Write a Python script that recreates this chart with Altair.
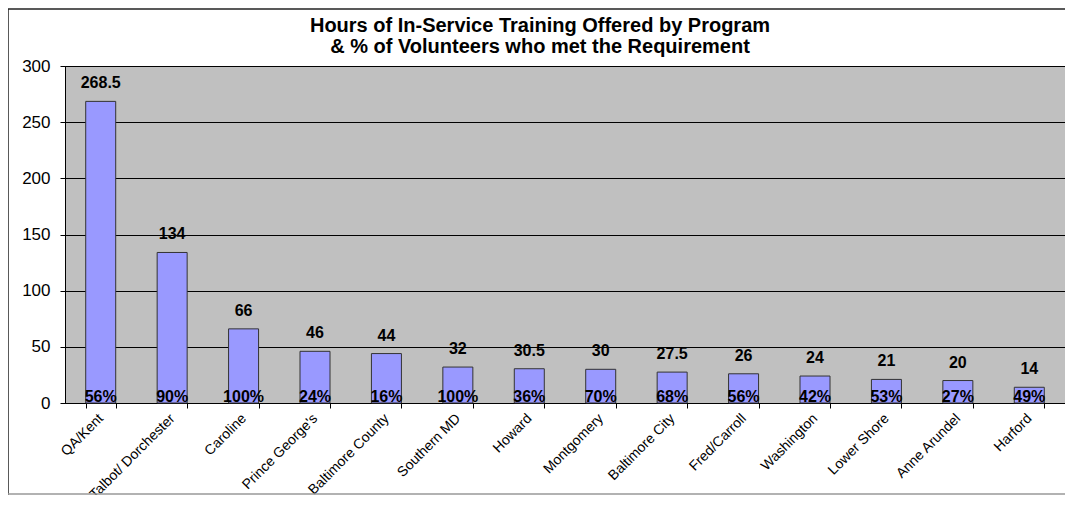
import altair as alt
import pandas as pd

programs = ["QA/Kent", "Talbot/ Dorchester", "Caroline", "Prince George's",
            "Baltimore County", "Southern MD", "Howard", "Montgomery",
            "Baltimore City", "Fred/Carroll", "Washington", "Lower Shore",
            "Anne Arundel", "Harford"]
hours = [268.5, 134, 66, 46, 44, 32, 30.5, 30, 27.5, 26, 24, 21, 20, 14]
hour_labels = ["268.5", "134", "66", "46", "44", "32", "30.5", "30",
               "27.5", "26", "24", "21", "20", "14"]
pct_met = ["56%", "90%", "100%", "24%", "16%", "100%", "36%", "70%",
           "68%", "56%", "42%", "53%", "27%", "49%"]
y_ticks = [0, 50, 100, 150, 200, 250, 300]
title_lines = ["Hours of In-Service Training Offered by Program",
               "& % of Volunteers who met the Requirement"]

df = pd.DataFrame({"program": programs, "hours": hours,
                   "hlabel": hour_labels, "pct": pct_met})

W, H = 1000, 337
FONT = "Liberation Sans, Arial, sans-serif"

x = alt.X("program:N", sort=None, title=None,
          scale=alt.Scale(paddingInner=0.58, paddingOuter=0.29),
          axis=alt.Axis(labelAngle=-45, labelAlign="right", labelBaseline="middle",
                        labelFont=FONT, labelFontSize=14, labelColor="black",
                        labelPadding=8, tickBand="extent", tickSize=5,
                        tickColor="black", domainColor="black", labelOverlap=False,
                        labelLimit=200))
y = alt.Y("hours:Q", title=None,
          scale=alt.Scale(domain=[0, 300], nice=False),
          axis=alt.Axis(values=y_ticks, labelFont=FONT, labelFontSize=17,
                        labelColor="black", tickSize=5, tickColor="black",
                        domainColor="black", gridColor="black", grid=True,
                        labelPadding=10))

base = alt.Chart(df)

bars = base.mark_bar(color="#9999FF", stroke="#333333", strokeWidth=1).encode(x=x, y=y)

vals = base.mark_text(font=FONT, fontSize=16, fontWeight="bold", color="black",
                      baseline="bottom", dy=-10).encode(x=x, y=y, text="hlabel:N")

pcts = base.mark_text(font=FONT, fontSize=16, fontWeight="bold", color="black",
                      baseline="bottom", dy=2).encode(x=x, y=alt.datum(0), text="pct:N")

tdf = pd.DataFrame({"line": title_lines})
title1 = alt.Chart(tdf.iloc[[0]]).mark_text(
    font=FONT, fontSize=20, fontWeight="bold", color="black", baseline="alphabetic"
).encode(x=alt.value(W / 2 - 25), y=alt.value(-34), text="line:N")
title2 = alt.Chart(tdf.iloc[[1]]).mark_text(
    font=FONT, fontSize=20, fontWeight="bold", color="black", baseline="alphabetic"
).encode(x=alt.value(W / 2 - 25), y=alt.value(-13), text="line:N")

border = alt.Chart(pd.DataFrame({"k": [0]})).mark_rule(color="#222222", strokeWidth=1.5)
left_b = border.encode(x=alt.value(-57), y=alt.value(-57), y2=alt.value(H + 92))
top_b = border.encode(x=alt.value(-57), x2=alt.value(W + 8), y=alt.value(-57))
bot_b = border.mark_rule(color="#999999", strokeWidth=1.5).encode(
    x=alt.value(-57), x2=alt.value(W + 8), y=alt.value(H + 91))

chart = alt.layer(bars, vals, pcts, title1, title2, left_b, top_b, bot_b).properties(
    width=W, height=H,
    autosize=alt.AutoSizeParams(type="none"),
    padding={"left": 57, "top": 58, "right": 0, "bottom": 92},
    background="white",
).configure_view(fill="#C0C0C0", stroke="black", strokeWidth=1)

chart.save("out.html", embed_options={"renderer": "svg", "actions": False})
